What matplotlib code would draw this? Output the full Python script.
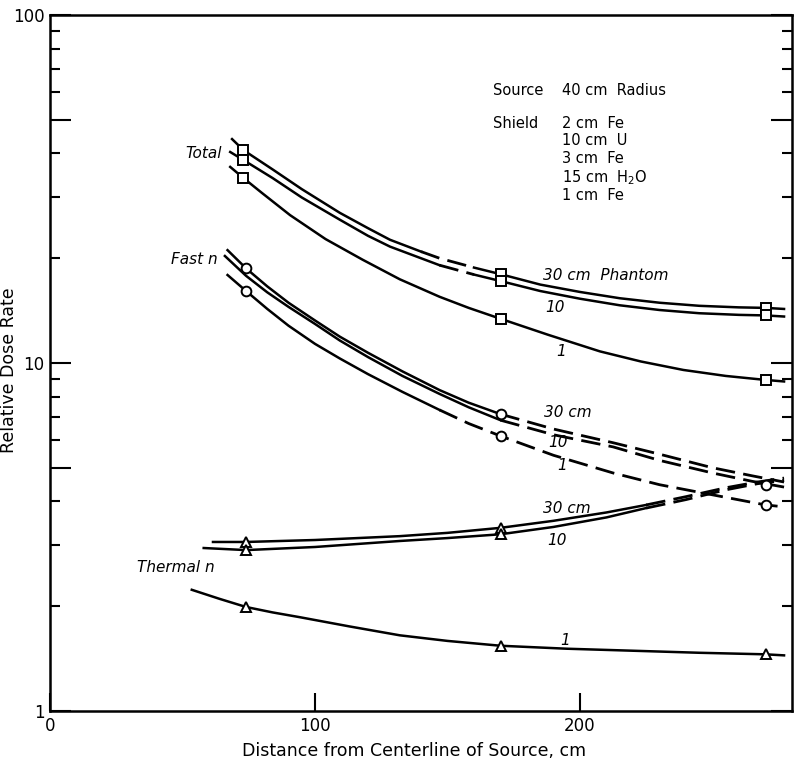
import matplotlib
matplotlib.use("Agg")
import matplotlib.pyplot as plt
from matplotlib.ticker import FixedLocator, NullFormatter

# ---- curve readings (distance cm, relative dose rate) ----
total30_x = [68.7, 73, 84, 95, 109.4, 120, 128.3, 140, 147, 160, 170, 185, 200, 215, 230, 245, 260, 270, 277]
total30_y = [44.0, 40.9, 36.0, 31.6, 27.0, 24.4, 22.6, 20.9, 20.0, 18.8, 18.0, 16.8, 16.0, 15.35, 14.9, 14.6, 14.45, 14.4, 14.3]
total10_x = [68, 73, 84, 95, 109.4, 120, 128.3, 140, 147, 160, 170, 185, 200, 215, 230, 245, 260, 270, 277]
total10_y = [40.4, 38.3, 34.0, 29.9, 25.8, 23.2, 21.6, 20.0, 19.1, 17.95, 17.2, 16.1, 15.3, 14.65, 14.2, 13.9, 13.75, 13.7, 13.6]
total1_x = [68, 73, 80, 90.6, 104, 118, 132, 147, 158, 170, 188, 207.5, 223, 239, 255, 270, 277]
total1_y = [36.6, 34.0, 30.8, 26.6, 22.7, 19.8, 17.4, 15.5, 14.4, 13.4, 12.05, 10.8, 10.1, 9.55, 9.18, 8.94, 8.85]

fast30_x = [67, 74, 82, 90, 100, 109.4, 120, 133, 147, 158, 170, 190, 212.5, 230, 250, 265, 277]
fast30_y = [21.1, 18.7, 16.6, 14.9, 13.25, 11.9, 10.7, 9.46, 8.36, 7.69, 7.13, 6.46, 5.9, 5.47, 5.0, 4.74, 4.55]
fast10_x = [66, 74, 82, 90, 100, 109.4, 120, 133, 147, 158, 170, 190, 212.5, 230, 250, 265, 277]
fast10_y = [20.3, 17.8, 15.96, 14.5, 12.95, 11.6, 10.4, 9.18, 8.15, 7.46, 6.85, 6.22, 5.74, 5.25, 4.83, 4.57, 4.4]
fast1_x = [67, 74, 82, 90, 100, 109.4, 120, 133, 147, 158, 170, 190, 212.5, 230, 250, 270, 277]
fast1_y = [17.9, 16.1, 14.3, 12.8, 11.35, 10.3, 9.29, 8.26, 7.33, 6.7, 6.17, 5.43, 4.83, 4.47, 4.18, 3.91, 3.86]

therm30_x = [61.5, 74, 100, 132, 150, 170, 190, 210, 225, 240, 255, 267, 277]
therm30_y = [3.06, 3.06, 3.10, 3.18, 3.25, 3.36, 3.52, 3.72, 3.91, 4.13, 4.38, 4.55, 4.67]
therm10_x = [58, 74, 100, 132, 150, 170, 190, 210, 225, 240, 255, 267, 277]
therm10_y = [2.94, 2.90, 2.96, 3.08, 3.14, 3.22, 3.38, 3.60, 3.83, 4.05, 4.32, 4.50, 4.60]
therm1_x = [53.5, 64, 74, 84, 94.3, 113, 132, 150, 170, 195, 220, 245, 270, 277]
therm1_y = [2.23, 2.10, 1.99, 1.92, 1.86, 1.75, 1.65, 1.59, 1.54, 1.51, 1.49, 1.47, 1.455, 1.445]

# measured points
sq_x = [73, 73, 73, 170, 170, 170, 270, 270, 270]
sq_y = [40.9, 38.3, 34.0, 18.0, 17.2, 13.4, 14.4, 13.7, 8.94]
circ_x = [74, 74, 170, 170, 270, 270]
circ_y = [18.7, 16.1, 7.13, 6.17, 4.46, 3.91]
tri_x = [74, 74, 170, 170, 74, 170, 270]
tri_y = [3.06, 2.90, 3.36, 3.22, 1.99, 1.54, 1.455]


def curve(ax, xs, ys, dash_from=None, dash_to=None):
    # solid everywhere except the dashed stretch [dash_from, dash_to]
    if dash_from is None:
        ax.plot(xs, ys, color="black", lw=1.8)
        return
    if dash_to is None:
        dash_to = xs[-1]
    i0 = xs.index(dash_from)
    i1 = xs.index(dash_to)
    ax.plot(xs[:i0 + 1], ys[:i0 + 1], color="black", lw=1.8)
    ax.plot(xs[i0:i1 + 1], ys[i0:i1 + 1], color="black", lw=2.0, dashes=(7, 3))
    if i1 < len(xs) - 1:
        ax.plot(xs[i1:], ys[i1:], color="black", lw=1.8)


fig = plt.figure(figsize=(7.97, 7.63), dpi=100)
ax = fig.add_axes([50 / 797, 1 - 711 / 763, 742 / 797, 696 / 763])

curve(ax, total30_x, total30_y, 140, 160)
curve(ax, total10_x, total10_y, 147, 160)
curve(ax, total1_x, total1_y)
curve(ax, fast30_x, fast30_y, 170)
curve(ax, fast10_x, fast10_y, 170)
curve(ax, fast1_x, fast1_y, 147)
curve(ax, therm30_x, therm30_y, 225)
curve(ax, therm10_x, therm10_y, 225)
curve(ax, therm1_x, therm1_y)

mk = dict(ls="none", mfc="white", mec="black", mew=1.4, zorder=5)
ax.plot(sq_x, sq_y, marker="s", ms=7, **mk)
ax.plot(circ_x, circ_y, marker="o", ms=7, **mk)
ax.plot(tri_x, tri_y, marker="^", ms=7.5, **mk)

ax.set_yscale("log")
ax.set_xlim(0, 280)
ax.set_ylim(1, 100)

ax.yaxis.set_major_locator(FixedLocator([1, 5, 10, 50, 100]))
ax.set_yticklabels(["1", "", "10", "", "100"])
ax.yaxis.set_minor_locator(FixedLocator([m * d for d in (1, 10) for m in (2, 3, 4, 6, 7, 8, 9)]))
ax.yaxis.set_minor_formatter(NullFormatter())
ax.set_xticks([0, 100, 200])
ax.set_xticklabels(["0", "100", "200"])

ax.tick_params(axis="y", which="major", direction="in", length=15, width=1.5,
               left=True, right=True, labelsize=12, pad=4)
ax.tick_params(axis="y", which="minor", direction="in", length=7, width=1.5,
               left=True, right=True)
ax.tick_params(axis="x", which="major", direction="in", length=13, width=1.5,
               labelsize=12, pad=4)
for s in ax.spines.values():
    s.set_linewidth(1.8)

ax.set_xlabel("Distance from Centerline of Source, cm", fontsize=12.5)
ax.set_ylabel("Relative Dose Rate", fontsize=12.5)
ax.xaxis.set_label_coords(0.49, -0.045)
ax.yaxis.set_label_coords(-0.043, 0.49)

it = dict(fontsize=11, style="italic", va="center")
ax.text(65, 40, "Total", ha="right", **it)
ax.text(63.4, 19.8, "Fast n", ha="right", **it)
ax.text(33, 2.58, "Thermal n", ha="left", **it)
ax.text(186, 17.8, "30 cm  Phantom", **it)
ax.text(187, 14.4, "10", **it)
ax.text(191, 10.8, "1", **it)
ax.text(186.4, 7.23, "30 cm", **it)
ax.text(188, 5.89, "10", **it)
ax.text(191.5, 5.09, "1", **it)
ax.text(186, 3.83, "30 cm", **it)
ax.text(187.5, 3.08, "10", **it)
ax.text(192.5, 1.59, "1", **it)

nt = dict(fontsize=10.5, va="center", ha="left")
ax.text(167, 60.5, "Source", **nt)
ax.text(193.2, 60.5, "40 cm  Radius", **nt)
ax.text(167, 48.9, "Shield", **nt)
shield_lines = ["2 cm  Fe", "10 cm  U", "3 cm  Fe", "15 cm  H$_2$O", "1 cm  Fe"]
shield_y = [48.9, 43.5, 38.6, 34.0, 30.2]
for txt, yv in zip(shield_lines, shield_y):
    ax.text(193.2, yv, txt, **nt)

fig.savefig("out.png", dpi=100)
